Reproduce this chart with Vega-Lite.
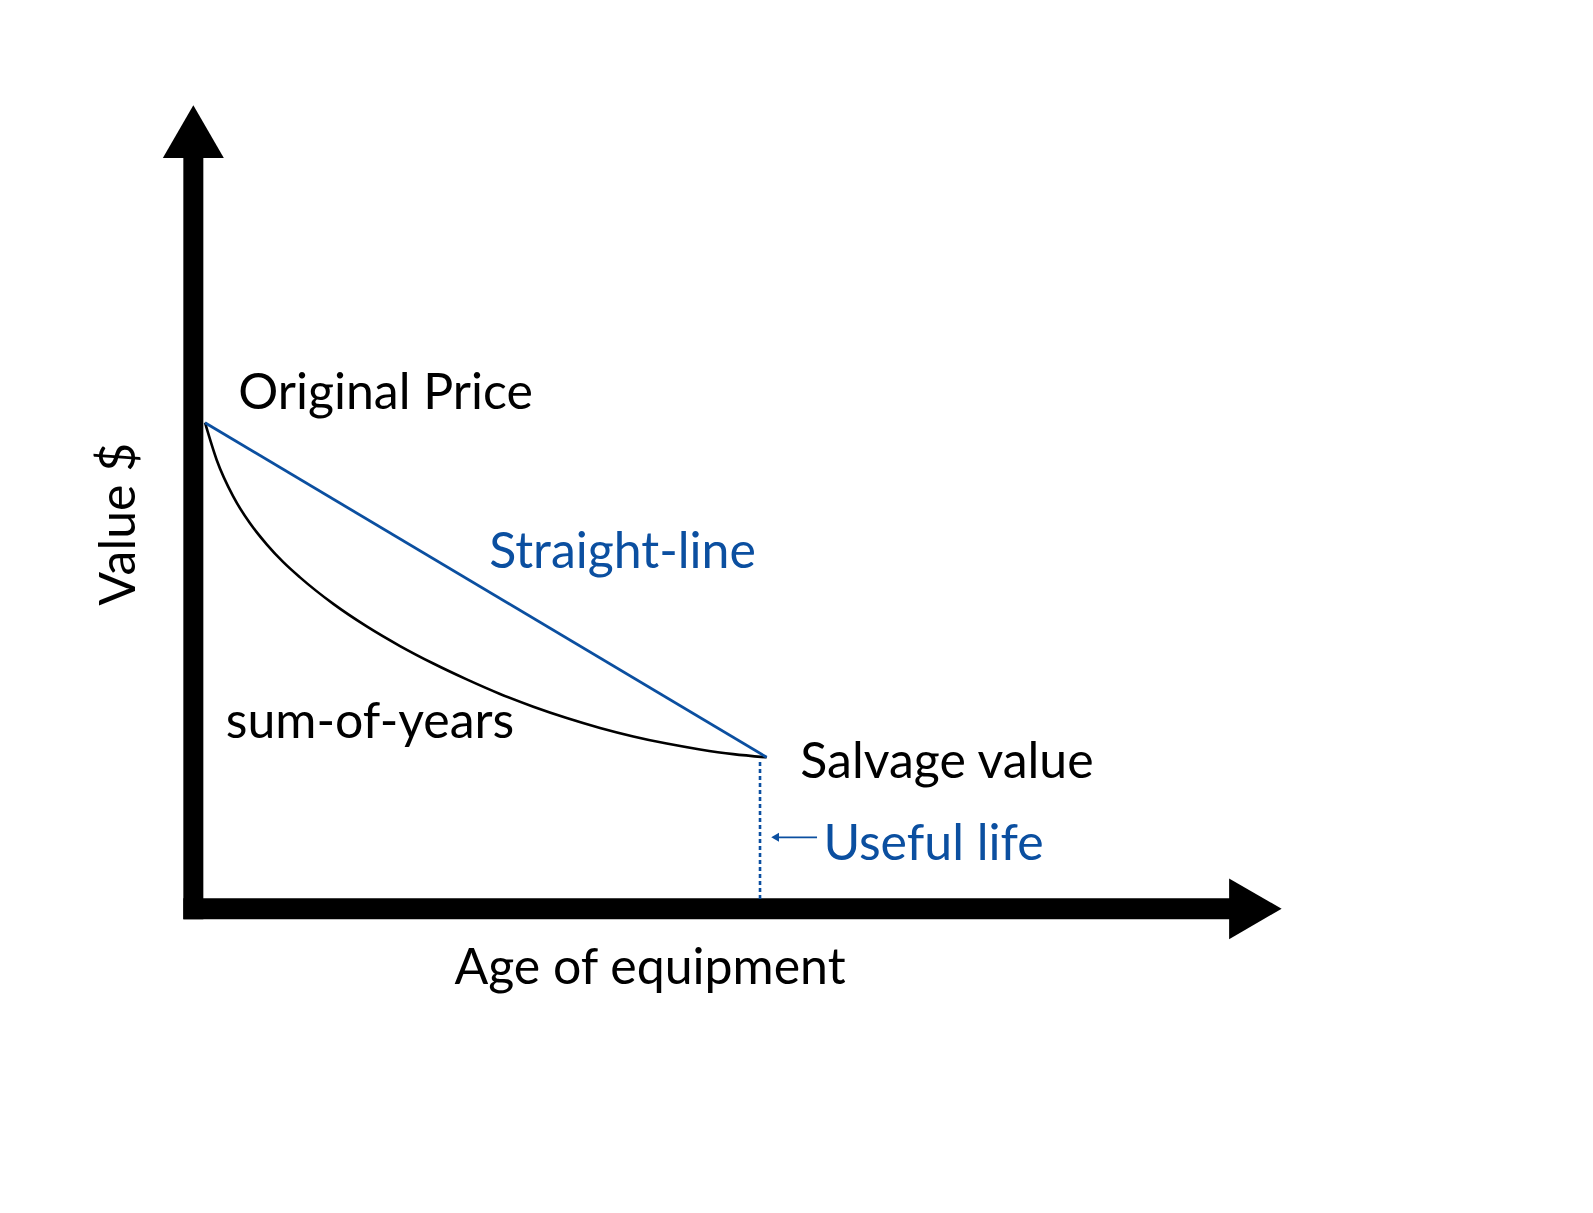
{
  "$schema": "https://vega.github.io/schema/vega-lite/v6.json",
  "width": 1593,
  "height": 1213,
  "padding": 0,
  "autosize": {"type": "none"},
  "background": "white",
  "config": {"view": {"stroke": null}},
  "encoding": {
    "x": {"field": "age", "type": "quantitative", "axis": null, "scale": {"domain": [-3.650, 24.711], "nice": false, "zero": false}},
    "y": {"field": "value", "type": "quantitative", "axis": null, "scale": {"domain": [-65.33, 188.43], "nice": false, "zero": false}}
  },
  "layer": [
    {
      "data": {"values": [{"part": "value axis", "age": -0.208, "value": -3.89, "value2": 156}]},
      "mark": {"type": "rule", "color": "black", "strokeWidth": 20, "strokeCap": "butt"},
      "encoding": {"y2": {"field": "value2"}}
    },
    {
      "data": {"values": [{"part": "age axis", "age": -0.386, "age2": 18.3, "value": -1.69}]},
      "mark": {"type": "rule", "color": "black", "strokeWidth": 21, "strokeCap": "butt"},
      "encoding": {"x2": {"field": "age2"}}
    },
    {
      "data": {"values": [{"part": "value arrow", "age": -0.208, "value": 160.88}]},
      "mark": {"type": "point", "shape": "triangle-up", "size": 3721, "filled": true, "color": "black", "opacity": 1, "strokeWidth": 0}
    },
    {
      "data": {"values": [{"part": "age arrow", "age": 18.70, "value": -1.69}]},
      "mark": {"type": "point", "shape": "triangle-right", "size": 3680, "filled": true, "color": "black", "opacity": 1, "strokeWidth": 0}
    },
    {
      "data": {"values": [
        {"series": "sum-of-years", "age": 0, "value": 100},
        {"series": "sum-of-years", "age": 0.208, "value": 92.2},
        {"series": "sum-of-years", "age": 0.504, "value": 84.52},
        {"series": "sum-of-years", "age": 0.801, "value": 78.95},
        {"series": "sum-of-years", "age": 1.098, "value": 74.56},
        {"series": "sum-of-years", "age": 1.394, "value": 70.82},
        {"series": "sum-of-years", "age": 1.691, "value": 67.64},
        {"series": "sum-of-years", "age": 2.284, "value": 62.09},
        {"series": "sum-of-years", "age": 2.879, "value": 57.38},
        {"series": "sum-of-years", "age": 3.472, "value": 53.28},
        {"series": "sum-of-years", "age": 4.065, "value": 49.62},
        {"series": "sum-of-years", "age": 4.659, "value": 46.3},
        {"series": "sum-of-years", "age": 5.252, "value": 43.26},
        {"series": "sum-of-years", "age": 5.845, "value": 40.59},
        {"series": "sum-of-years", "age": 6.44, "value": 38.22},
        {"series": "sum-of-years", "age": 7.033, "value": 36.15},
        {"series": "sum-of-years", "age": 7.625, "value": 34.37},
        {"series": "sum-of-years", "age": 8.22, "value": 32.87},
        {"series": "sum-of-years", "age": 8.813, "value": 31.65},
        {"series": "sum-of-years", "age": 9.405, "value": 30.67},
        {"series": "sum-of-years", "age": 10.0, "value": 30.0}
      ]},
      "mark": {"type": "line", "color": "black", "strokeWidth": 2.6, "interpolate": "monotone"}
    },
    {
      "data": {"values": [
        {"series": "straight-line", "age": 0, "value": 100},
        {"series": "straight-line", "age": 10.0, "value": 30.0}
      ]},
      "mark": {"type": "line", "color": "#0b4fa0", "strokeWidth": 2.8}
    },
    {
      "data": {"values": [{"part": "useful life marker", "age": 9.881, "value": 29.0, "value2": 0.3}]},
      "mark": {"type": "rule", "color": "#0b4fa0", "strokeWidth": 2.6, "strokeDash": [4, 3], "strokeCap": "butt"},
      "encoding": {"y2": {"field": "value2"}}
    },
    {
      "data": {"values": [{"part": "useful life arrow", "age": 10.15, "age2": 10.896, "value": 13.26}]},
      "mark": {"type": "rule", "color": "#0b4fa0", "strokeWidth": 1.8},
      "encoding": {"x2": {"field": "age2"}}
    },
    {
      "data": {"values": [{"part": "useful life arrowhead", "age": 10.15, "value": 13.26}]},
      "mark": {"type": "point", "shape": "triangle-left", "size": 80, "filled": true, "color": "#0b4fa0", "opacity": 1, "strokeWidth": 0}
    },
    {
      "data": {"values": [
        {"label": "Original Price", "age": 3.214, "value": 102.87},
        {"label": "sum-of-years", "age": 2.938, "value": 34.14},
        {"label": "Salvage value", "age": 13.21, "value": 25.77},
        {"label": "Age of equipment", "age": 7.922, "value": -17.32}
      ]},
      "mark": {"type": "text", "font": "Lato", "fontSize": 50, "color": "black", "align": "center", "baseline": "alphabetic"},
      "encoding": {"text": {"field": "label"}}
    },
    {
      "data": {"values": [
        {"label": "Straight-line", "age": 7.433, "value": 69.6},
        {"label": "Useful life", "age": 12.97, "value": 8.52}
      ]},
      "mark": {"type": "text", "font": "Lato", "fontSize": 50, "color": "#0b4fa0", "align": "center", "baseline": "alphabetic"},
      "encoding": {"text": {"field": "label"}}
    },
    {
      "data": {"values": [{"label": "Value $", "age": -1.246, "value": 78.77}]},
      "mark": {"type": "text", "font": "Lato", "fontSize": 50, "color": "black", "align": "center", "baseline": "alphabetic", "angle": 270},
      "encoding": {"text": {"field": "label"}}
    }
  ]
}
